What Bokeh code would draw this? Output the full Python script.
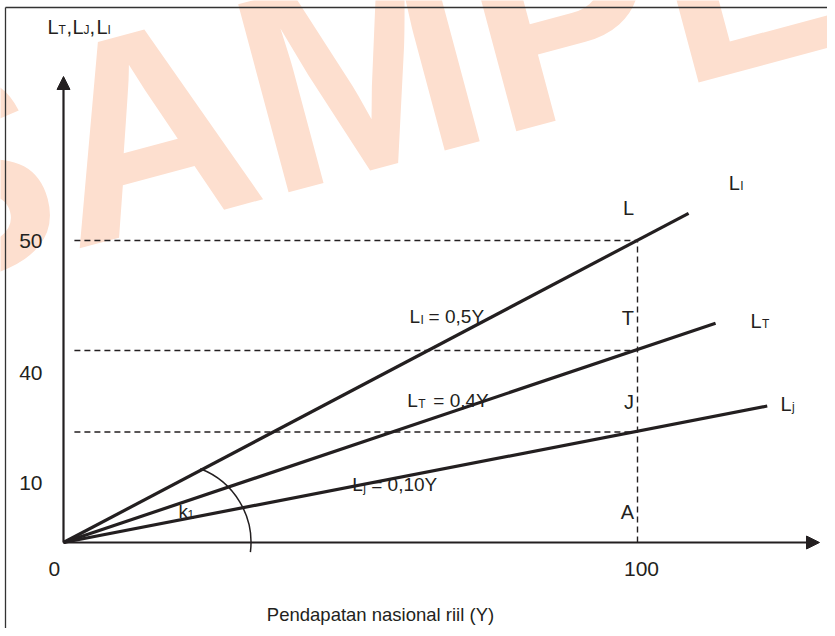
import math
from bokeh.plotting import figure
from bokeh.models import Arrow, NormalHead
from bokeh.core.properties import value
from bokeh.embed import file_html
from bokeh.resources import INLINE

# ---------------- data (in axis units) ----------------
line_names = ["L_I", "L_T", "L_j"]
line_end_x = [108.9, 113.6, 122.6]      # where each drawn line stops (Y)
line_end_y = [54.5, 36.3, 22.6]         # its height there
level_at_100 = [50.0, 31.8, 18.3]       # height of each line at Y = 100 (dashed guides)
guide_x = 100.0

y_tick_labels = ["50", "40", "10"]
y_tick_pos = [50.0, 28.1, 9.9]
x_tick_labels = ["0", "100"]
x_tick_pos = [-1.6, 100.7]

point_labels = ["L", "T", "J", "A"]
point_label_y = [55.3, 37.1, 23.2, 5.0]

end_main = ["L", "L", "L"]
end_sub = ["I", "T", "j"]
end_x = [115.9, 119.7, 124.9]
end_y = [59.6, 36.75, 23.0]

eq_main = ["L", "L", "L"]
eq_sub = ["I", "T", "j"]
eq_tail = ["= 0,5Y", "= 0,4Y", "= 0,10Y"]
eq_x = [60.3, 59.9, 50.3]
eq_y = [37.4, 23.5, 9.6]

x_title = "Pendapatan nasional riil (Y)"
watermark = ["S", "AMPLE"]

# ---------------- layout ----------------
W, H = 827, 628
SX, SY = 5.74, 6.04               # px per axis unit
OX, OY = 63, 542                  # origin in picture px
X0 = (0 - OX) / SX
Y1 = (OY - 0) / SY
p = figure(width=W, height=H, x_range=(X0, X0 + W / SX), y_range=(Y1 - H / SY, Y1),
           output_backend="svg", toolbar_location=None, title=None,
           x_axis_location=None, y_axis_location=None,
           min_border=0, min_border_left=0, min_border_right=0,
           min_border_top=0, min_border_bottom=0)
p.grid.visible = False
p.outline_line_color = None
p.background_fill_color = "white"


def fx(px):
    return (px - OX) / SX


def fy(py):
    return (OY - py) / SY


INK = "#231f20"
FONT = "Liberation Sans"
WM = "#fddfcf"

# watermark
ang = math.radians(15)
wx, wy = fx(47), fy(155)
p.text(x=[wx], y=[wy], text=[watermark[0]], angle=ang, text_align="right",
       text_baseline="middle", text_font=value(FONT), text_font_style="bold",
       text_font_size="283px", text_color=WM)
p.text(x=[wx], y=[wy], text=[watermark[1]], angle=ang, text_align="left",
       text_baseline="middle", text_font=value(FONT), text_font_style="bold",
       text_font_size="283px", text_color=WM)

# page frame (top + left)
xl, xr = p.x_range.start, p.x_range.end
yb, yt = p.y_range.start, p.y_range.end
p.line([fx(5), fx(5)], [yb, fy(7)], line_color="#333333", line_width=1.3)
p.line([fx(5), xr], [fy(7), fy(7)], line_color="#333333", line_width=1.3)

# dashed guides
gx0 = 1.9
for lv in level_at_100:
    p.line([gx0, guide_x], [lv, lv], line_color=INK, line_width=1.4, line_dash="6 4")
p.line([guide_x, guide_x], [0, level_at_100[0]], line_color=INK, line_width=1.4, line_dash="6 4")

# axes with arrows
p.add_layout(Arrow(end=NormalHead(size=13, fill_color=INK, line_color=INK, line_width=1),
                   x_start=0, y_start=0, x_end=0, y_end=fy(76),
                   line_color=INK, line_width=2.2))
p.add_layout(Arrow(end=NormalHead(size=13, fill_color=INK, line_color=INK, line_width=1),
                   x_start=0, y_start=0, x_end=fx(819), y_end=0,
                   line_color=INK, line_width=2.2))

# the three lines
for ex, ey in zip(line_end_x, line_end_y):
    p.line([0, ex], [0, ey], line_color=INK, line_width=3.2)

# angle arc k1
p.arc(x=[fx(171.5)], y=[0], radius=79, radius_units="screen",
      start_angle=math.radians(-7), end_angle=math.radians(69),
      line_color=INK, line_width=1.5)


def txt(x, y, t, size=19, align="left", dx=0, dy=0):
    p.text(x=[x], y=[y], text=[t], x_offset=dx, y_offset=dy, text_font=value(FONT),
           text_font_size=f"{size}px", text_align=align, text_baseline="middle",
           text_color=INK)


TAIL_DX = {"I": 19, "T": 26, "j": 19}
SUB = 12      # subscript size
SDY = 3       # subscript drop (px)

# tick labels
for lab, yv in zip(y_tick_labels, y_tick_pos):
    txt(fx(42), yv, lab, size=21, align="right")
for lab, xv in zip(x_tick_labels, x_tick_pos):
    txt(xv, fy(568), lab, size=21, align="center")

# point labels at Y = 100
for lab, yv in zip(point_labels, point_label_y):
    txt(fx(633.5), yv, lab, size=20, align="right")

# line-end labels
for m, s, x, y in zip(end_main, end_sub, end_x, end_y):
    txt(x, y, m, size=20)
    txt(x, y, s, size=SUB, dx=11.5, dy=SDY)

# equation labels
for m, s, t, x, y in zip(eq_main, eq_sub, eq_tail, eq_x, eq_y):
    txt(x, y, m)
    txt(x, y, s, size=SUB, dx=11, dy=SDY)
    txt(x, y, t, dx=TAIL_DX[s])

# k1
txt(fx(178), fy(511), "k", size=19)
txt(fx(178), fy(511), "1", size=SUB, dx=9, dy=SDY)

# y-axis title L_T,L_J,L_I
tx, ty = fx(47), fy(26)
for t, s, dx, dy in [("L", 20, 0, 0), ("T", SUB, 11, SDY), (",", 20, 19, 0), ("L", 20, 25, 0),
                     ("J", SUB, 36, SDY), (",", 20, 42, 0), ("L", 20, 49, 0), ("I", SUB, 60, SDY)]:
    txt(tx, ty, t, size=s, dx=dx, dy=dy)

# x-axis title
txt(fx(380), fy(614), x_title, size=18.5, align="center")

open("out.html", "w").write(file_html(p, INLINE))
